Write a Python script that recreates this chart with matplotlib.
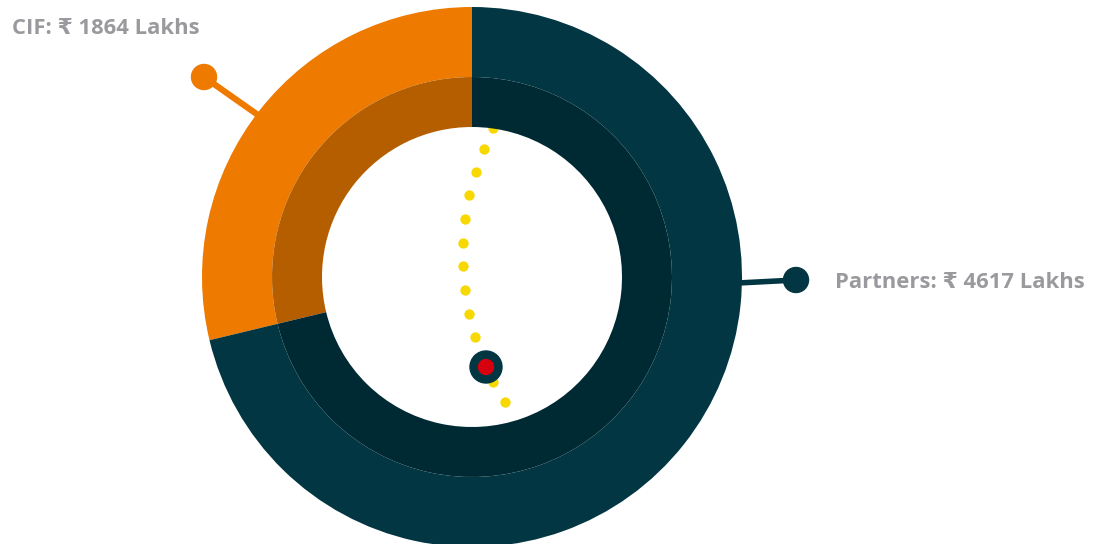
import matplotlib.pyplot as plt
from matplotlib.patches import Circle

# donut data
labels = ['CIF', 'Partners']
values = [1864, 4617]
outer_colors = ['#EE7A00', '#023642']
inner_colors = ['#B55E00', '#002A33']

# yellow dotted track (pixel positions, y measured from top)
track_x = [493, 484, 476, 469, 465, 463, 463, 465, 469, 475, 484, 493, 505]
track_y = [128, 149, 172, 195, 219, 243, 266, 290, 314, 337, 360, 382, 402]
pointer = (486, 367)

W, H = 1096, 544
cx, cy = 472, H - 277

fig = plt.figure(figsize=(W / 100, H / 100), dpi=100)
ax = fig.add_axes([0, 0, 1, 1])

# dots sit behind the donut
ax.scatter(track_x, [H - y for y in track_y], s=55, color='#F7D800', zorder=1, linewidths=0)

ax.pie(values, colors=outer_colors, startangle=90, counterclock=True,
       center=(cx, cy), radius=270, frame=True,
       wedgeprops=dict(width=70, linewidth=0, zorder=2))
ax.pie(values, colors=inner_colors, startangle=90, counterclock=True,
       center=(cx, cy), radius=200, frame=True,
       wedgeprops=dict(width=50, linewidth=0, zorder=2))
ax.set_xlim(0, W)
ax.set_ylim(0, H)
ax.set_aspect('equal')
ax.axis('off')

# pointer marker
ax.add_patch(Circle((pointer[0], H - pointer[1]), 16, color='#023642', zorder=4))
ax.add_patch(Circle((pointer[0], H - pointer[1]), 7.5, color='#D7000F', zorder=5))

# connectors
ax.plot([258, 204], [H - 115, H - 77], color='#EE7A00', lw=4.5, zorder=3, solid_capstyle='butt')
ax.add_patch(Circle((204, H - 77), 12.5, color='#EE7A00', zorder=3))
ax.plot([738, 796], [H - 283, H - 280], color='#023642', lw=4, zorder=3, solid_capstyle='butt')
ax.add_patch(Circle((796, H - 280), 12.5, color='#023642', zorder=3))

fam = ['Open Sans', 'DejaVu Sans']
ax.text(12, H - 28, f'{labels[0]}: \u20b9 {values[0]} Lakhs', color='#9A9A9E',
        fontsize=15.8, fontweight='bold', family=fam, va='center', ha='left')
ax.text(835, H - 283, f'{labels[1]}: \u20b9 {values[1]} Lakhs', color='#9A9A9E',
        fontsize=15.8, fontweight='bold', family=fam, va='center', ha='left')

fig.savefig('out.png', dpi=100)
